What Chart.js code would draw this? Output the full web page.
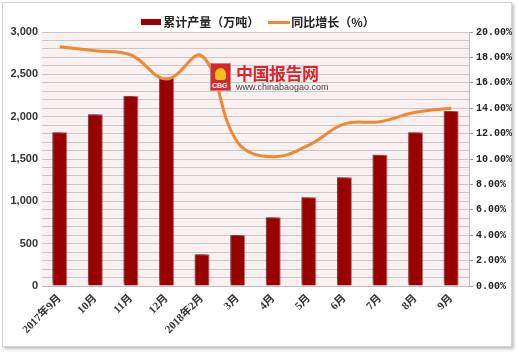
<!DOCTYPE html>
<html><head><meta charset="utf-8">
<script src="https://cdn.jsdelivr.net/npm/chart.js@4/dist/chart.umd.min.js"></script>
<style>
html,body{margin:0;padding:0;background:#fff;}
#wrap{position:relative;width:520px;height:354px;overflow:hidden;}
#frame{position:absolute;left:2px;top:2px;width:508px;height:343px;border:1px solid #d4d4d4;box-shadow:2px 2px 3px rgba(0,0,0,0.25);background:#fff;}
canvas{position:absolute;left:0;top:0;}
#wm{position:absolute;left:210px;top:63px;pointer-events:none;}
#logo{position:absolute;left:0;top:0;width:21px;height:28px;background:#d8282c;border:1px solid #b88;box-sizing:border-box;}
#logo span{position:absolute;left:1px;bottom:1px;font:bold 7px "Liberation Sans",sans-serif;color:#fff;}
#logo i{position:absolute;left:4px;top:4px;width:11px;height:12px;background:#f2c21b;border-radius:50% 50% 20% 20%;}
#wm1{position:absolute;left:26px;top:0px;font:bold 17px "Noto Sans CJK SC",sans-serif;color:#e0242b;white-space:nowrap;line-height:20px;letter-spacing:-0.5px;}
#wm2{position:absolute;left:26px;top:19px;font:9px "Liberation Sans",sans-serif;color:#444;white-space:nowrap;}
</style></head>
<body><div id="wrap"><div id="frame"></div><canvas id="c" width="520" height="354"></canvas>
<div id="wm"><div id="logo"><i></i><span>CBG</span></div><div id="wm1">中国报告网</div><div id="wm2">www.chinabaogao.com</div></div>
</div>
<script>
const categories = ['2017年9月','10月','11月','12月','2018年2月','3月','4月','5月','6月','7月','8月','9月'];
const output = [1815, 2028, 2244, 2461, 374, 602, 811, 1047, 1284, 1551, 1815, 2067];
const growth = [18.84, 18.53, 18.19, 16.3, 18.1, 11.3, 10.18, 11.1, 12.76, 12.94, 13.68, 13.99];
const leftTicks = [0, 500, 1000, 1500, 2000, 2500, 3000];
const rightTicks = [0, 2, 4, 6, 8, 10, 12, 14, 16, 18, 20];

function mk(w,h,c){const cv=document.createElement('canvas');cv.width=w;cv.height=h;const x=cv.getContext('2d');x.fillStyle=c;x.fillRect(0,0,w,h);return cv;}
const icoBar = mk(20,6,'#990000');
const icoLine = mk(22,3,'#f0882d');

const bgPlugin = {
  id:'bg',
  beforeDraw(chart){
    const {ctx,chartArea:a}=chart;
    ctx.save();ctx.fillStyle='#f9f1f1';ctx.fillRect(a.left,a.top,a.right-a.left,a.bottom-a.top);ctx.restore();
  },
  afterInit(chart){
    const lg=chart.legend; const f=lg.fit;
    lg.fit=function(){f.call(this);this.height=30;};
  },
  beforeDatasetDraw(chart,args){
    if(args.index===0){const c=chart.ctx;c.save();c.shadowColor='rgba(0,0,0,0.45)';c.shadowBlur=4;c.shadowOffsetX=-3;c.shadowOffsetY=-3;}
  },
  afterDatasetDraw(chart,args){ if(args.index===0){chart.ctx.restore();} }
};

new Chart(document.getElementById('c'),{
  data:{
    labels:categories,
    datasets:[
      {type:'bar',label:'累计产量（万吨）',data:output,backgroundColor:'#990000',borderColor:'rgba(200,90,90,0.8)',borderWidth:1,barPercentage:0.42,categoryPercentage:1,yAxisID:'y',order:2},
      {type:'line',label:'同比增长（%）',data:growth,borderColor:'#f0882d',borderWidth:3,pointRadius:0,tension:0.4,fill:false,yAxisID:'y1',order:1}
    ]
  },
  options:{
    responsive:false,animation:false,
    layout:{padding:{top:2,left:0,right:0,bottom:0}},
    plugins:{
      tooltip:{enabled:false},
      legend:{position:'top',labels:{usePointStyle:true,
        generateLabels(chart){
          return chart.data.datasets.map((d,i)=>({text:d.label,pointStyle:i===0?icoBar:icoLine,datasetIndex:i,fontColor:'#222',lineWidth:0,strokeStyle:'transparent',fillStyle:'transparent'}));
        },
        padding:14,color:'#222',font:{family:'"Noto Sans CJK SC", sans-serif',size:12,weight:'bold'}}}
    },
    scales:{
      x:{grid:{display:false,drawTicks:false},border:{color:'#bdbdbd'},
        ticks:{minRotation:45,maxRotation:45,autoSkip:false,color:'#333',padding:6,font:{family:'"Liberation Serif","Noto Sans CJK SC",serif',size:11,weight:'bold'}},
        afterFit(s){s.height=68;}},
      y:{position:'left',min:0,max:3000,
        afterBuildTicks(s){const t=[];for(let v=0;v<=3000;v+=100)t.push({value:v});s.ticks=t;},
        ticks:{autoSkip:false,color:'#333',padding:4,font:{family:'"Liberation Sans",sans-serif',size:11,weight:'bold'},
          callback(v){return leftTicks.includes(v)?v.toLocaleString('en-US'):'';}},
        grid:{color:'#c8c8c8',drawTicks:false},border:{display:false},
        afterFit(s){s.width=42;}},
      y1:{position:'right',min:0,max:20,
        afterBuildTicks(s){s.ticks=rightTicks.map(v=>({value:v}));},
        ticks:{color:'#222',padding:3,font:{family:'"Liberation Mono",monospace',size:10,weight:'bold'},callback(v){return v.toFixed(2)+'%';}},
        grid:{drawOnChartArea:false,color:'#999',tickLength:4},border:{color:'#bdbdbd'},
        afterFit(s){s.width=51;}}
    }
  },
  plugins:[bgPlugin]
});
</script></body></html>
